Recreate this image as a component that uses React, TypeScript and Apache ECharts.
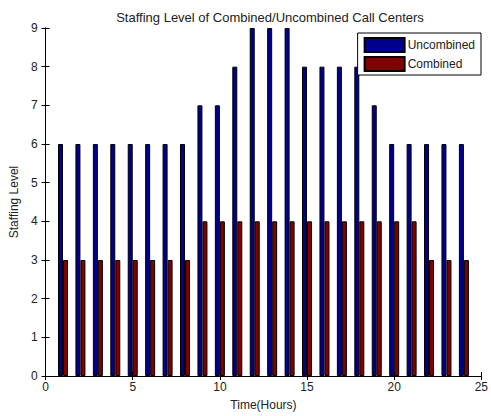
import React, { useEffect, useRef } from "react";
import * as echarts from "echarts";

const hours = [1, 2, 3, 4, 5, 6, 7, 8, 9, 10, 11, 12, 13, 14, 15, 16, 17, 18, 19, 20, 21, 22, 23, 24];
const uncombined = [6, 6, 6, 6, 6, 6, 6, 6, 7, 7, 8, 9, 9, 9, 8, 8, 8, 8, 7, 6, 6, 6, 6, 6];
const combined = [3, 3, 3, 3, 3, 3, 3, 3, 4, 4, 4, 4, 4, 4, 4, 4, 4, 4, 4, 4, 4, 3, 3, 3];

const FONT = "Liberation Sans";
const TEXT = "#222";

export default function App() {
  const ref = useRef<HTMLDivElement>(null);

  useEffect(() => {
    if (!ref.current) return;
    const chart = echarts.init(ref.current, null, { renderer: "svg" });
    const axisLine = { show: true, lineStyle: { color: "#000", width: 1 } };
    const tick = { show: true, inside: true, length: 4, lineStyle: { color: "#000" } };
    chart.setOption({
      animation: false,
      backgroundColor: "#fff",
      title: {
        text: "Staffing Level of Combined/Uncombined Call Centers",
        left: 265,
        textAlign: "center",
        top: 6,
        textStyle: { fontFamily: FONT, fontSize: 13, fontWeight: "normal", color: TEXT },
      },
      legend: {
        orient: "vertical",
        right: 10,
        top: 33,
        padding: [4, 6, 3, 6],
        itemGap: 3,
        itemWidth: 40,
        itemHeight: 14,
        borderColor: "#000",
        borderWidth: 1,
        backgroundColor: "#fff",
        icon: "rect",
        textStyle: { fontFamily: FONT, fontSize: 12, color: TEXT, padding: [0, 0, 0, -2] },
        data: ["Uncombined", "Combined"],
      },
      grid: { left: 44, right: 4, top: 28, bottom: 38 },
      xAxis: [
        {
          type: "value",
          min: 0,
          max: 25,
          interval: 5,
          name: "Time(Hours)",
          nameLocation: "middle",
          nameGap: 23,
          nameTextStyle: { fontFamily: FONT, fontSize: 12, color: TEXT },
          axisLine,
          axisTick: tick,
          splitLine: { show: false },
          axisLabel: {
            fontFamily: FONT,
            fontSize: 12,
            color: TEXT,
            margin: 5,
            alignMinLabel: "center",
            alignMaxLabel: "center",
          },
        },
        {
          type: "value",
          position: "top",
          min: 0,
          max: 25,
          interval: 5,
          axisLine,
          axisTick: tick,
          splitLine: { show: false },
          axisLabel: { show: false },
        },
      ],
      yAxis: [
        {
          type: "value",
          min: 0,
          max: 9,
          interval: 1,
          name: "Staffing Level",
          nameLocation: "middle",
          nameGap: 19,
          nameTextStyle: { fontFamily: FONT, fontSize: 12, color: TEXT },
          axisLine,
          axisTick: tick,
          splitLine: { show: false },
          axisLabel: { fontFamily: FONT, fontSize: 12, color: TEXT, margin: 8 },
        },
        {
          type: "value",
          position: "right",
          min: 0,
          max: 9,
          interval: 1,
          axisLine,
          axisTick: tick,
          splitLine: { show: false },
          axisLabel: { show: false },
        },
      ],
      series: [
        {
          name: "Uncombined",
          type: "bar",
          barWidth: 5,
          barGap: "0%",
          data: hours.map((h, i) => [h, uncombined[i]]),
          itemStyle: { color: "#00008c", borderColor: "#000", borderWidth: 1 },
        },
        {
          name: "Combined",
          type: "bar",
          barWidth: 5,
          barGap: "0%",
          data: hours.map((h, i) => [h, combined[i]]),
          itemStyle: { color: "#800000", borderColor: "#000", borderWidth: 1 },
        },
      ],
    });
    return () => chart.dispose();
  }, []);

  return <div ref={ref} style={{ width: 491, height: 416, position: "absolute", left: 0, top: 0 }} />;
}
